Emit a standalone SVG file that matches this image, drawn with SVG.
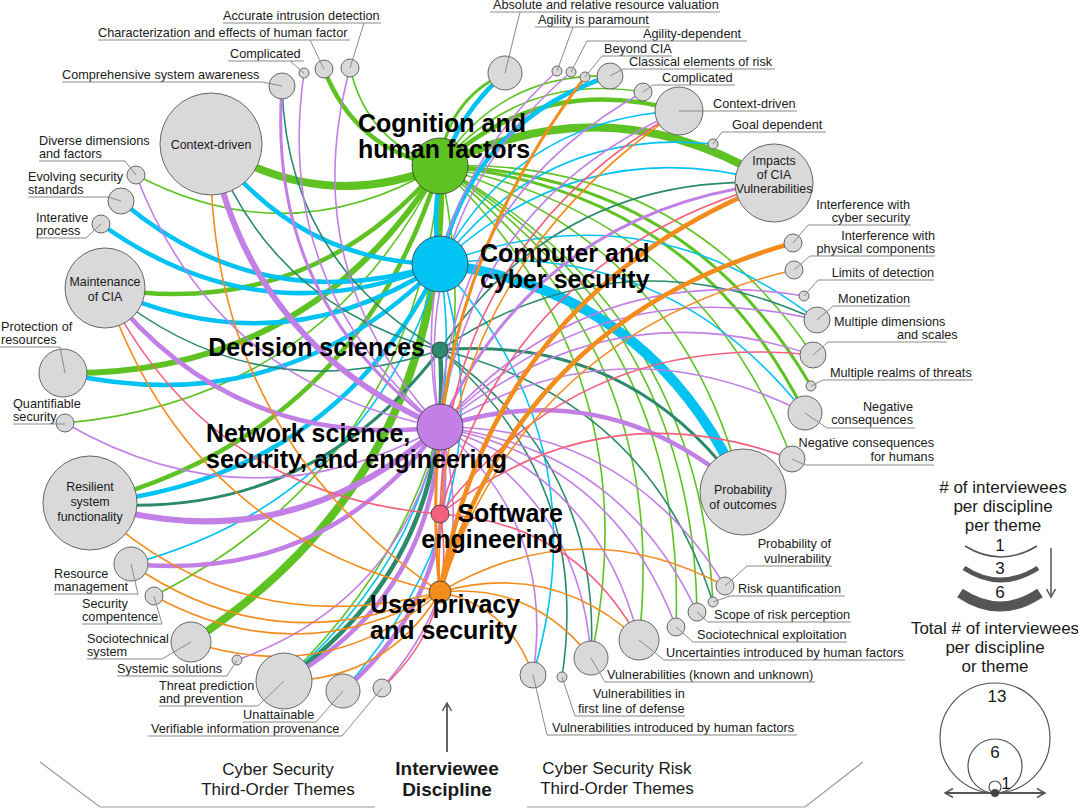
<svg xmlns="http://www.w3.org/2000/svg" width="1078" height="809" viewBox="0 0 1078 809">
<defs>
<style>
.e{fill:none;stroke-linecap:round}
.g{stroke:#5ec322}.c{stroke:#00c2f3}.d{stroke:#2b8a6b}.n{stroke:#c27fe6}.s{stroke:#f2607e}.u{stroke:#f28c1c}
.w1{stroke-width:1.6}.w2{stroke-width:3}.w3{stroke-width:4.5}.w4{stroke-width:6}.w5{stroke-width:8}.w6{stroke-width:10}
.t{fill:#d9d9d9;stroke:#666;stroke-width:1}
.ld{fill:none;stroke:#8a8a8a;stroke-width:1}
.lb{font-family:"Liberation Sans",Arial,sans-serif;font-size:12.7px;fill:#1a1a1a}
.in{text-anchor:middle;font-size:12.4px}
.r{text-anchor:end}
.big{font-family:"Liberation Sans",Arial,sans-serif;font-weight:bold;font-size:25px;fill:#000}
.ax{font-family:"Liberation Sans",Arial,sans-serif;font-size:17px;fill:#1a1a1a;text-anchor:middle}
.axb{font-weight:bold;font-size:19px}
.disc{stroke:#333;stroke-width:0.8}
.br{fill:none;stroke:#999;stroke-width:1.2}
.lg{fill:none;stroke:#555}
</style>
<marker id="ah" markerUnits="userSpaceOnUse" markerWidth="12" markerHeight="12" refX="9" refY="5" orient="auto-start-reverse">
<path d="M1,0.5 L9,5 L1,9.5" fill="none" stroke="#555" stroke-width="1.5"/>
</marker>
</defs>
<rect width="1078" height="809" fill="#fff"/>

<g id="connectors">
<path class="e g w1" d="M350,68 Q367,142 440,166"/>
<path class="e g w3" d="M324,69 Q355,150 440,166"/>
<path class="e g w5" d="M211,144 Q323,215 440,166"/>
<path class="e g w1" d="M136,175 Q290,256 440,166"/>
<path class="e g w3" d="M105,288 Q307,322 440,166"/>
<path class="e g w4" d="M63,373 Q309,376 440,166"/>
<path class="e g w1" d="M65,423 Q324,400 440,166"/>
<path class="e g w3" d="M90,503 Q358,433 440,166"/>
<path class="e g w1" d="M154,596 Q417,462 440,166"/>
<path class="e g w5" d="M191,642 Q448,474 440,166"/>
<path class="e g w1" d="M284,681 Q506,468 440,166"/>
<path class="e g w2" d="M505,73 Q446,101 440,166"/>
<path class="e g w1" d="M610,76 Q499,73 440,166"/>
<path class="e g w1" d="M643,92 Q520,72 440,166"/>
<path class="e g w3" d="M679,111 Q543,72 440,166"/>
<path class="e g w5" d="M774,183 Q611,81 440,166"/>
<path class="e g w1" d="M813,355 Q679,156 440,166"/>
<path class="e g w2" d="M811,386 Q687,173 440,166"/>
<path class="e g w2" d="M805,413 Q692,188 440,166"/>
<path class="e g w1" d="M792,459 Q698,214 440,166"/>
<path class="e g w1" d="M743,492 Q682,243 440,166"/>
<path class="e g w1" d="M713,602 Q698,308 440,166"/>
<path class="e g w1" d="M697,612 Q693,318 440,166"/>
<path class="e g w1" d="M676,627 Q687,331 440,166"/>
<path class="e g w1" d="M639,640 Q672,348 440,166"/>
<path class="e g w1" d="M591,658 Q653,371 440,166"/>
<path class="e c w3" d="M211,144 Q297,263 440,264"/>
<path class="e c w3" d="M121,201 Q262,320 440,264"/>
<path class="e c w3" d="M101,224 Q260,338 440,264"/>
<path class="e c w3" d="M105,288 Q280,369 440,264"/>
<path class="e c w3" d="M63,373 Q283,423 440,264"/>
<path class="e c w3" d="M90,503 Q332,480 440,264"/>
<path class="e c w1" d="M131,564 Q370,500 440,264"/>
<path class="e c w1" d="M284,681 Q479,515 440,264"/>
<path class="e c w1" d="M343,691 Q511,503 440,264"/>
<path class="e c w3" d="M505,73 Q419,149 440,264"/>
<path class="e c w3" d="M610,76 Q473,121 440,264"/>
<path class="e c w1" d="M679,111 Q517,119 440,264"/>
<path class="e c w1" d="M713,144 Q544,127 440,264"/>
<path class="e c w1" d="M774,183 Q584,129 440,264"/>
<path class="e c w1" d="M817,320 Q644,186 440,264"/>
<path class="e c w1" d="M805,413 Q665,235 440,264"/>
<path class="e c w6" d="M743,492 Q655,291 440,264"/>
<path class="e c w1" d="M533,675 Q602,442 440,264"/>
<path class="e d w1" d="M282,86 Q287,262 440,350"/>
<path class="e d w1" d="M211,144 Q272,306 440,350"/>
<path class="e d w1" d="M105,288 Q256,413 440,350"/>
<path class="e d w2" d="M90,503 Q307,524 440,350"/>
<path class="e d w3" d="M284,681 Q455,559 440,350"/>
<path class="e d w1" d="M774,183 Q560,172 440,350"/>
<path class="e d w1" d="M817,320 Q620,229 440,350"/>
<path class="e d w2" d="M743,492 Q631,334 440,350"/>
<path class="e d w1" d="M713,602 Q647,399 440,350"/>
<path class="e d w1" d="M591,658 Q602,462 440,350"/>
<path class="e d w1" d="M562,677 Q592,479 440,350"/>
<path class="e n w1" d="M350,68 Q295,272 440,427"/>
<path class="e n w1" d="M304,73 Q273,288 440,427"/>
<path class="e n w2" d="M282,86 Q266,301 440,427"/>
<path class="e n w4" d="M211,144 Q250,345 440,427"/>
<path class="e n w1" d="M136,175 Q217,386 440,427"/>
<path class="e n w3" d="M105,288 Q234,452 440,427"/>
<path class="e n w1" d="M65,423 Q252,531 440,427"/>
<path class="e n w4" d="M90,503 Q286,563 440,427"/>
<path class="e n w3" d="M131,564 Q324,583 440,427"/>
<path class="e n w1" d="M237,660 Q404,600 440,427"/>
<path class="e n w3" d="M284,681 Q433,598 440,427"/>
<path class="e n w3" d="M343,691 Q465,586 440,427"/>
<path class="e n w1" d="M382,688 Q484,574 440,427"/>
<path class="e n w1" d="M557,71 Q398,217 440,427"/>
<path class="e n w1" d="M571,72 Q406,213 440,427"/>
<path class="e n w1" d="M643,92 Q447,202 440,427"/>
<path class="e n w1" d="M679,111 Q471,202 440,427"/>
<path class="e n w2" d="M774,183 Q538,211 440,427"/>
<path class="e n w1" d="M804,296 Q585,260 440,427"/>
<path class="e n w1" d="M817,320 Q598,268 440,427"/>
<path class="e n w1" d="M813,355 Q607,286 440,427"/>
<path class="e n w1" d="M805,413 Q619,318 440,427"/>
<path class="e n w3" d="M743,492 Q609,373 440,427"/>
<path class="e n w1" d="M725,586 Q627,426 440,427"/>
<path class="e n w1" d="M697,612 Q620,448 440,427"/>
<path class="e n w1" d="M676,627 Q614,461 440,427"/>
<path class="e n w1" d="M639,640 Q600,478 440,427"/>
<path class="e n w1" d="M591,658 Q581,501 440,427"/>
<path class="e n w1" d="M533,675 Q556,524 440,427"/>
<path class="e s w1" d="M105,288 Q209,496 440,514"/>
<path class="e s w1" d="M382,688 Q459,618 440,514"/>
<path class="e s w1" d="M679,111 Q446,246 440,514"/>
<path class="e s w1" d="M774,183 Q513,255 440,514"/>
<path class="e s w1" d="M813,355 Q582,330 440,514"/>
<path class="e s w1" d="M792,459 Q600,388 440,514"/>
<path class="e s w1" d="M639,640 Q575,522 440,514"/>
<path class="e u w1" d="M211,144 Q204,428 440,592"/>
<path class="e u w1" d="M105,288 Q188,534 440,592"/>
<path class="e u w1" d="M90,503 Q239,645 440,592"/>
<path class="e u w1" d="M131,564 Q277,665 440,592"/>
<path class="e u w1" d="M154,596 Q298,674 440,592"/>
<path class="e u w1" d="M191,642 Q330,687 440,592"/>
<path class="e u w1" d="M284,681 Q387,680 440,592"/>
<path class="e u w2" d="M585,77 Q410,306 440,592"/>
<path class="e u w1" d="M679,111 Q425,284 440,592"/>
<path class="e u w3" d="M774,183 Q492,294 440,592"/>
<path class="e u w3" d="M793,243 Q519,319 440,592"/>
<path class="e u w1" d="M794,270 Q527,332 440,592"/>
<path class="e u w1" d="M725,586 Q581,509 440,592"/>
<path class="e u w1" d="M639,640 Q553,560 440,592"/>
<path class="e u w1" d="M591,658 Q534,583 440,592"/>
<path class="e u w1" d="M533,675 Q510,607 440,592"/>
</g>

<g id="t-accurate"><circle class="t" cx="350" cy="68" r="9"/><text class="lb" x="223" y="20">Accurate intrusion detection</text><path class="ld" d="M223,23 H381 M364,23 L350,68"/></g>
<g id="t-characterization"><circle class="t" cx="324" cy="69" r="9"/><text class="lb" x="98" y="37">Characterization and effects of human factor</text><path class="ld" d="M98,40 H350 M310,40 L324,69"/></g>
<g id="t-complicated-l"><circle class="t" cx="304" cy="73" r="5"/><text class="lb" x="230" y="58">Complicated</text><path class="ld" d="M228,61 H304 M290,61 L304,73"/></g>
<g id="t-comprehensive"><circle class="t" cx="282" cy="86" r="13"/><text class="lb" x="62" y="79">Comprehensive system awareness</text><path class="ld" d="M62,82 H262 L282,86"/></g>
<g id="t-context-l"><circle class="t" cx="211" cy="144" r="51"/><text class="lb in" x="211" y="149">Context-driven</text></g>
<g id="t-diverse"><circle class="t" cx="136" cy="175" r="9"/><text class="lb" x="39" y="145">Diverse dimensions</text><text class="lb" x="39" y="158">and factors</text><path class="ld" d="M39,161 H125 L136,175"/></g>
<g id="t-evolving"><circle class="t" cx="121" cy="201" r="13"/><text class="lb" x="28" y="181">Evolving security</text><text class="lb" x="28" y="194">standards</text><path class="ld" d="M28,197 H108 L121,201"/></g>
<g id="t-interative"><circle class="t" cx="101" cy="224" r="9"/><text class="lb" x="36" y="222">Interative</text><text class="lb" x="36" y="235">process</text><path class="ld" d="M36,238 H86 L101,224"/></g>
<g id="t-maintenance"><circle class="t" cx="105" cy="288" r="40"/><text class="lb in" x="105" y="286">Maintenance</text><text class="lb in" x="105" y="301">of CIA</text></g>
<g id="t-protection"><circle class="t" cx="63" cy="373" r="24"/><text class="lb" x="1" y="331">Protection of</text><text class="lb" x="1" y="344">resources</text><path class="ld" d="M0,347 H60 L65,373"/></g>
<g id="t-quantifiable"><circle class="t" cx="65" cy="423" r="9"/><text class="lb" x="13" y="408">Quantifiable</text><text class="lb" x="13" y="421">security</text><path class="ld" d="M13,424 H65"/></g>
<g id="t-resilient"><circle class="t" cx="90" cy="503" r="47"/><text class="lb in" x="90" y="491">Resilient</text><text class="lb in" x="90" y="506">system</text><text class="lb in" x="90" y="521">functionality</text></g>
<g id="t-resource"><circle class="t" cx="131" cy="564" r="17"/><text class="lb" x="54" y="578">Resource</text><text class="lb" x="54" y="591">management</text><path class="ld" d="M54,594 H138 L131,564"/></g>
<g id="t-security-comp"><circle class="t" cx="154" cy="596" r="9"/><text class="lb" x="82" y="608">Security</text><text class="lb" x="82" y="621">compentence</text><path class="ld" d="M82,624 H162 L154,596"/></g>
<g id="t-sociotech-sys"><circle class="t" cx="191" cy="642" r="20"/><text class="lb" x="87" y="643">Sociotechnical</text><text class="lb" x="87" y="656">system</text><path class="ld" d="M87,659 H162 L191,642"/></g>
<g id="t-systemic"><circle class="t" cx="237" cy="660" r="5"/><text class="lb" x="117" y="673">Systemic solutions</text><path class="ld" d="M117,676 H227 L237,660"/></g>
<g id="t-threat"><circle class="t" cx="284" cy="681" r="28"/><text class="lb" x="159" y="690">Threat prediction</text><text class="lb" x="159" y="703">and prevention</text><path class="ld" d="M159,706 H258 L284,681"/></g>
<g id="t-unattainable"><circle class="t" cx="343" cy="691" r="17"/><text class="lb" x="243" y="719">Unattainable</text><path class="ld" d="M243,722 H316 L343,691"/></g>
<g id="t-verifiable"><circle class="t" cx="382" cy="688" r="9"/><text class="lb" x="151" y="733">Verifiable information provenance</text><path class="ld" d="M148,736 H342 L382,688"/></g>

<g id="t-absolute"><circle class="t" cx="505" cy="73" r="17"/><text class="lb" x="493" y="9">Absolute and relative resource valuation</text><path class="ld" d="M490,12 H720 M520,12 L505,73"/></g>
<g id="t-agility-p"><circle class="t" cx="557" cy="71" r="5"/><text class="lb" x="538" y="24">Agility is paramount</text><path class="ld" d="M535,27 H650 M573,27 L557,71"/></g>
<g id="t-agility-d"><circle class="t" cx="571" cy="72" r="5"/><text class="lb" x="643" y="38">Agility-dependent</text><path class="ld" d="M747,41 H587 L571,72"/></g>
<g id="t-beyond"><circle class="t" cx="585" cy="77" r="5"/><text class="lb" x="604" y="53">Beyond CIA</text><path class="ld" d="M672,56 H602 L585,77"/></g>
<g id="t-classical"><circle class="t" cx="610" cy="76" r="13"/><text class="lb" x="629" y="66">Classical elements of risk</text><path class="ld" d="M775,69 H623 L610,76"/></g>
<g id="t-complicated-r"><circle class="t" cx="643" cy="92" r="9"/><text class="lb" x="662" y="82">Complicated</text><path class="ld" d="M735,85 H653 L643,92"/></g>
<g id="t-context-r"><circle class="t" cx="679" cy="111" r="24"/><text class="lb" x="713" y="108">Context-driven</text><path class="ld" d="M797,111 H679"/></g>
<g id="t-goal"><circle class="t" cx="713" cy="144" r="5"/><text class="lb" x="732" y="129">Goal dependent</text><path class="ld" d="M826,132 H722 L713,144"/></g>
<g id="t-impacts"><circle class="t" cx="774" cy="183" r="39"/><text class="lb in" x="774" y="165">Impacts</text><text class="lb in" x="774" y="179">of CIA</text><text class="lb in" x="774" y="193">Vulnerabilities</text></g>
<g id="t-interf-cyber"><circle class="t" cx="793" cy="243" r="9"/><text class="lb r" x="910" y="209">Interference with</text><text class="lb r" x="910" y="222">cyber security</text><path class="ld" d="M911,225 H808 L793,243"/></g>
<g id="t-interf-phys"><circle class="t" cx="794" cy="270" r="9"/><text class="lb r" x="935" y="240">Interference with</text><text class="lb r" x="935" y="253">physical components</text><path class="ld" d="M935,256 H810 L794,270"/></g>
<g id="t-limits"><circle class="t" cx="804" cy="296" r="5"/><text class="lb r" x="934" y="277">Limits of detection</text><path class="ld" d="M934,280 H818 L804,296"/></g>
<g id="t-monetization"><circle class="t" cx="817" cy="320" r="13"/><text class="lb r" x="910" y="303">Monetization</text><path class="ld" d="M910,306 H833 L817,320"/></g>
<g id="t-multi-dims"><circle class="t" cx="813" cy="355" r="13"/><text class="lb" x="834" y="326">Multiple dimensions</text><text class="lb" x="897" y="339">and scales</text><path class="ld" d="M947,342 H828 L813,355"/></g>
<g id="t-multi-realms"><circle class="t" cx="811" cy="386" r="5"/><text class="lb" x="830" y="377">Multiple realms of threats</text><path class="ld" d="M973,380 H823 L811,386"/></g>
<g id="t-negative"><circle class="t" cx="805" cy="413" r="17"/><text class="lb r" x="913" y="411">Negative</text><text class="lb r" x="913" y="424">consequences</text><path class="ld" d="M915,428 H827 L805,413"/></g>
<g id="t-neg-humans"><circle class="t" cx="792" cy="459" r="13"/><text class="lb r" x="934" y="447">Negative consequences</text><text class="lb r" x="934" y="461">for humans</text><path class="ld" d="M792,459 L805,465 H934"/></g>
<g id="t-prob-outcomes"><circle class="t" cx="743" cy="492" r="43"/><text class="lb in" x="743" y="494">Probability</text><text class="lb in" x="743" y="509">of outcomes</text></g>
<g id="t-prob-vuln"><circle class="t" cx="725" cy="586" r="9"/><text class="lb r" x="831" y="548">Probability of</text><text class="lb r" x="831" y="563">vulnerability</text><path class="ld" d="M832,566 H747 L725,586"/></g>
<g id="t-risk-quant"><circle class="t" cx="713" cy="602" r="5"/><text class="lb" x="738" y="593">Risk quantification</text><path class="ld" d="M845,596 H730 L713,602"/></g>
<g id="t-scope"><circle class="t" cx="697" cy="612" r="9"/><text class="lb" x="714" y="619">Scope of risk perception</text><path class="ld" d="M851,622 H708 L697,612"/></g>
<g id="t-socio-expl"><circle class="t" cx="676" cy="627" r="9"/><text class="lb" x="697" y="639">Sociotechnical exploitation</text><path class="ld" d="M847,642 H693 L676,627"/></g>
<g id="t-uncertainties"><circle class="t" cx="639" cy="640" r="20"/><text class="lb" x="666" y="657">Uncertainties introduced by human factors</text><path class="ld" d="M905,660 H664 L639,640"/></g>
<g id="t-vuln-known"><circle class="t" cx="591" cy="658" r="17"/><text class="lb" x="607" y="679">Vulnerabilities (known and unknown)</text><path class="ld" d="M815,682 H605 L591,658"/></g>
<g id="t-vuln-first"><circle class="t" cx="562" cy="677" r="5"/><text class="lb" x="593" y="698">Vulnerabilities in</text><text class="lb" x="578" y="713">first line of defense</text><path class="ld" d="M685,716 H575 L562,677"/></g>
<g id="t-vuln-intro"><circle class="t" cx="533" cy="675" r="13"/><text class="lb" x="552" y="732">Vulnerabilities introduced by human factors</text><path class="ld" d="M797,735 H547 L533,675"/></g>

<g id="d-cognition"><circle class="disc" cx="440" cy="166" r="28" fill="#5ec322"/><text class="big" x="358" y="132">Cognition and</text><text class="big" x="358" y="158">human factors</text></g>
<g id="d-computer"><circle class="disc" cx="440" cy="264" r="28" fill="#00c2f3"/><text class="big" x="480" y="262">Computer and</text><text class="big" x="480" y="288">cyber security</text></g>
<g id="d-decision"><circle class="disc" cx="440" cy="350" r="8" fill="#2b8a6b"/><text class="big" x="425" y="356" text-anchor="end">Decision sciences</text></g>
<g id="d-network"><circle class="disc" cx="440" cy="427" r="23" fill="#c27fe6"/><text class="big" x="206" y="442">Network science,</text><text class="big" x="206" y="468">security, and engineering</text></g>
<g id="d-software"><circle class="disc" cx="440" cy="514" r="9" fill="#f2607e"/><text class="big" x="563" y="522" text-anchor="end">Software</text><text class="big" x="563" y="548" text-anchor="end">engineering</text></g>
<g id="d-user"><circle class="disc" cx="440" cy="592" r="11" fill="#f28c1c"/><text class="big" x="370" y="613">User privacy</text><text class="big" x="370" y="639">and security</text></g>

<g id="axis">
<path class="br" d="M40,762 L100,807 H375"/>
<path class="br" d="M527,807 H805 L863,762"/>
<text class="ax" x="278" y="775">Cyber Security</text>
<text class="ax" x="278" y="795">Third-Order Themes</text>
<text class="ax axb" x="447" y="775">Interviewee</text>
<text class="ax axb" x="447" y="796">Discipline</text>
<path d="M447,752 V703" stroke="#555" stroke-width="1.8" fill="none" marker-end="url(#ah)"/>
<text class="ax" x="617" y="774">Cyber Security Risk</text>
<text class="ax" x="617" y="794">Third-Order Themes</text>
</g>

<g id="legend">
<text class="ax" x="1003" y="493">#&#160;of interviewees</text>
<text class="ax" x="1003" y="512">per discipline</text>
<text class="ax" x="1003" y="531">per theme</text>
<path class="lg" stroke-width="1.5" d="M965,546 Q1001,568 1037,546"/>
<text class="ax" x="1000" y="551">1</text>
<path class="lg" stroke-width="5" d="M964,568 Q1000,592 1038,568"/>
<text class="ax" x="1000" y="574">3</text>
<path class="lg" stroke-width="10" d="M960,593 Q1000,620 1040,593"/>
<text class="ax" x="1000" y="598">6</text>
<path d="M1051,548 V597" stroke="#555" stroke-width="1.5" fill="none" marker-end="url(#ah)"/>
<text class="ax" x="995" y="634">Total # of interviewees</text>
<text class="ax" x="995" y="653">per discipline</text>
<text class="ax" x="995" y="672">or theme</text>
<circle class="lg" cx="995" cy="738" r="55" fill="none" stroke-width="1.2"/>
<text class="ax" x="997" y="702">13</text>
<circle class="lg" cx="995" cy="766" r="27" fill="none" stroke-width="1.2"/>
<text class="ax" x="995" y="758">6</text>
<circle class="lg" cx="995" cy="787" r="6" fill="#fff" stroke-width="1.2"/>
<text class="ax" x="1006" y="789">1</text>
<path d="M945,793 H1045" stroke="#555" stroke-width="2" fill="none" marker-start="url(#ah)" marker-end="url(#ah)"/>
<circle cx="995" cy="793" r="4" fill="#444"/>
</g>
</svg>
